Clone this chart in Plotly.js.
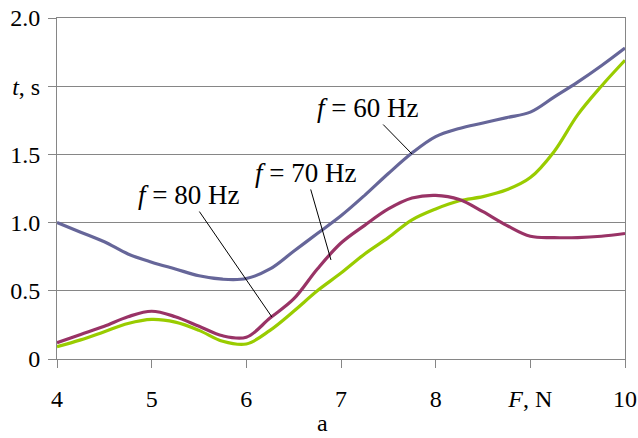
<!DOCTYPE html>
<html>
<head>
<meta charset="utf-8">
<script src="https://cdn.plot.ly/plotly-3.0.1.min.js"></script>
<style>
html,body{margin:0;padding:0;background:#fff;}
#chart{width:638px;height:438px;}
</style>
</head>
<body>
<div id="chart"></div>
<script>
// Force F, N
var forceF = [4, 4.25, 4.5, 4.75, 5, 5.25, 5.5, 5.75, 6, 6.25, 6.5, 6.75, 7, 7.25, 7.5, 7.75, 8, 8.25, 8.5, 8.75, 9, 9.25, 9.5, 9.75, 10];
// time t, s
var t60 = [1.00, 0.93, 0.86, 0.77, 0.71, 0.66, 0.61, 0.585, 0.59, 0.66, 0.79, 0.92, 1.05, 1.20, 1.36, 1.51, 1.63, 1.69, 1.73, 1.77, 1.81, 1.92, 2.03, 2.15, 2.28];
var t70 = [0.09, 0.14, 0.20, 0.26, 0.29, 0.27, 0.21, 0.13, 0.11, 0.21, 0.35, 0.50, 0.63, 0.77, 0.89, 1.02, 1.10, 1.16, 1.19, 1.24, 1.33, 1.52, 1.79, 2.00, 2.19];
var t80 = [0.12, 0.18, 0.24, 0.31, 0.35, 0.31, 0.24, 0.17, 0.16, 0.30, 0.44, 0.66, 0.85, 0.98, 1.10, 1.18, 1.20, 1.17, 1.08, 0.98, 0.90, 0.89, 0.89, 0.90, 0.92];

var xTickVals = [4, 5, 6, 7, 8, 9, 10];
var xTickText = ['4', '5', '6', '7', '8', '<i>F</i>, N', '10'];
var yTickVals = [0, 0.5, 1.0, 1.5, 2.0, 2.5];
var yTickText = ['0', '0.5', '1.0', '1.5', '<i>t</i>, s', '2.0'];

var seriesNames = ['f = 60 Hz', 'f = 70 Hz', 'f = 80 Hz'];
var seriesColors = ['#666699', '#99cc00', '#993366'];
var seriesData = [t60, t70, t80];

var traces = seriesData.map(function (ys, i) {
  return {
    x: forceF, y: ys, type: 'scatter', mode: 'lines', name: seriesNames[i],
    line: {color: seriesColors[i], width: 3.2, shape: 'spline', smoothing: 1},
    hoverinfo: 'skip'
  };
});
// draw order: green, maroon, blue on top
traces = [traces[1], traces[2], traces[0]];

var FAM = 'Liberation Serif, Times New Roman, serif';
function fnt(size) { return {family: FAM, size: size, color: '#000'}; }
function ann(text, x, y, ax, ay) {
  return {text: text, x: x, y: y, ax: ax, ay: ay, xref: 'x', yref: 'y', axref: 'x', ayref: 'y',
    showarrow: true, arrowhead: 0, arrowwidth: 1, arrowcolor: '#000', standoff: 0,
    font: fnt(27)};
}

var layout = {
  width: 638, height: 438,
  margin: {l: 57, r: 13, t: 18, b: 79},
  paper_bgcolor: '#fff', plot_bgcolor: '#fff',
  showlegend: false,
  font: fnt(24),
  xaxis: {
    range: [4, 10], tickvals: xTickVals, ticktext: xTickText,
    showgrid: false, zeroline: false, showline: true, mirror: true,
    linecolor: '#868686', linewidth: 1,
    ticks: 'outside', ticklen: 8, tickcolor: '#868686', tickwidth: 1,
    ticklabelstandoff: 10,
    tickfont: fnt(24)
  },
  yaxis: {
    range: [0, 2.5], tickvals: yTickVals, ticktext: yTickText,
    showgrid: true, gridcolor: '#868686', gridwidth: 1,
    zeroline: false, showline: true, mirror: true,
    linecolor: '#868686', linewidth: 1,
    ticks: 'outside', ticklen: 8, tickcolor: '#868686', tickwidth: 1,
    ticklabelstandoff: 3,
    tickfont: fnt(24)
  },
  annotations: [
    ann('<i>f</i> = 60 Hz', 7.75, 1.503, 7.275, 1.84),
    ann('<i>f</i> = 70 Hz', 6.894, 0.726, 6.63, 1.364),
    ann('<i>f</i> = 80 Hz', 6.27, 0.308, 5.384, 1.202),
    {text: 'a', xref: 'paper', yref: 'paper', x: (322 - 57) / 568, y: -0.2317, yanchor: 'bottom',
     showarrow: false, font: fnt(24)}
  ]
};

Plotly.newPlot('chart', traces, layout, {displayModeBar: false, staticPlot: true});
</script>
</body>
</html>
